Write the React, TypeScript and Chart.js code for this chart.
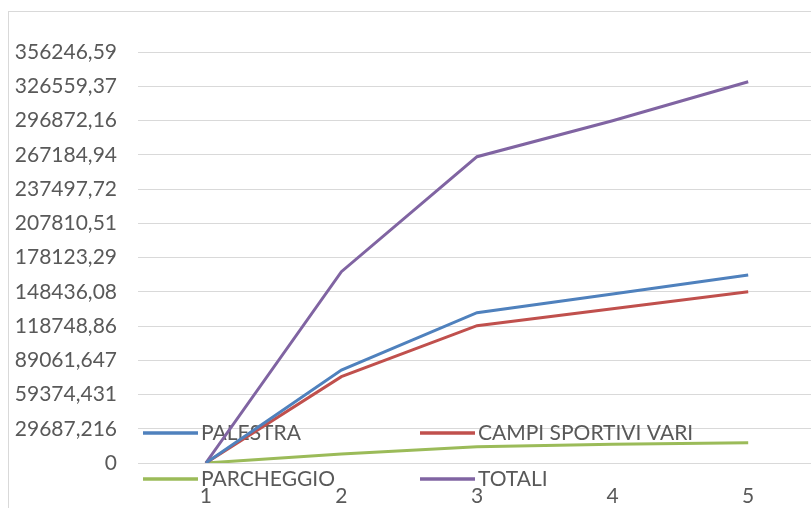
import React, { useEffect, useRef } from 'react';
import { Chart, registerables } from 'chart.js';

Chart.register(...registerables);

const categories = ['1', '2', '3', '4', '5'];
const palestra = [0, 80600, 130300, 146500, 163000];
const campiSportivi = [0, 74800, 119000, 133700, 148500];
const parcheggio = [0, 7800, 14000, 16200, 17600];
const totali = [0, 165800, 265500, 296700, 330500];

const seriesNames = ['PALESTRA', 'CAMPI SPORTIVI VARI', 'PARCHEGGIO', 'TOTALI'];
const seriesColors = ['#4F81BD', '#C0504D', '#9BBB59', '#8064A2'];

const tickValues = [
  0, 29687.216, 59374.431, 89061.647, 118748.86, 148436.08, 178123.29,
  207810.51, 237497.72, 267184.94, 296872.16, 326559.37, 356246.59,
];
const tickLabels = [
  '0', '29687,216', '59374,431', '89061,647', '118748,86', '148436,08', '178123,29',
  '207810,51', '237497,72', '267184,94', '296872,16', '326559,37', '356246,59',
];

const FONT = 'Lato, "Open Sans", sans-serif';
const TEXT_COLOR = '#595959';

// legend item anchors (layout)
const legendSlots = [
  { x: 143, y: 433 },
  { x: 420, y: 433 },
  { x: 143, y: 479 },
  { x: 420, y: 479 },
];

const overlayLegend = {
  id: 'overlayLegend',
  beforeDatasetsDraw(chart: any) {
    const ctx = chart.ctx as CanvasRenderingContext2D;
    ctx.save();
    chart.data.datasets.forEach((ds: any, i: number) => {
      const s = legendSlots[i];
      if (!s) return;
      ctx.strokeStyle = ds.borderColor;
      ctx.lineWidth = 3.5;
      ctx.lineCap = 'butt';
      ctx.beginPath();
      ctx.moveTo(s.x, s.y);
      ctx.lineTo(s.x + 55, s.y);
      ctx.stroke();
      ctx.fillStyle = TEXT_COLOR;
      ctx.font = `21px ${FONT}`;
      ctx.textBaseline = 'middle';
      ctx.textAlign = 'left';
      ctx.fillText(ds.label, s.x + 58, s.y);
    });
    ctx.restore();
  },
};

export default function App() {
  const ref = useRef<HTMLCanvasElement | null>(null);

  useEffect(() => {
    if (!ref.current) return;
    const values = [palestra, campiSportivi, parcheggio, totali];
    const chart = new Chart(ref.current, {
      type: 'line',
      data: {
        labels: categories,
        datasets: values.map((v, i) => ({
          label: seriesNames[i],
          data: v,
          borderColor: seriesColors[i],
          backgroundColor: seriesColors[i],
          borderWidth: 3,
          pointRadius: 0,
          tension: 0,
          fill: false,
        })),
      },
      options: {
        responsive: false,
        animation: false,
        devicePixelRatio: 1,
        layout: { padding: { left: 0, top: 52, right: 14, bottom: 0 } },
        plugins: {
          legend: { display: false },
          tooltip: { enabled: false },
          title: { display: false },
        },
        scales: {
          x: {
            type: 'category',
            offset: true,
            grid: { display: false, drawTicks: false },
            border: { display: false },
            ticks: {
              color: TEXT_COLOR,
              font: { family: FONT, size: 21 },
              padding: 21,
              maxRotation: 0,
            },
            afterFit(scale: any) {
              scale.height = 45;
            },
          },
          y: {
            type: 'linear',
            min: 0,
            max: tickValues[tickValues.length - 1],
            grid: { color: '#D9D9D9', lineWidth: 1, drawTicks: false },
            border: { display: false },
            ticks: {
              color: TEXT_COLOR,
              font: { family: FONT, size: 21 },
              padding: 21,
              callback: (_v: any, i: number) => tickLabels[i],
            },
            afterBuildTicks(scale: any) {
              scale.ticks = tickValues.map((v) => ({ value: v }));
            },
            afterFit(scale: any) {
              scale.width = 138;
            },
          },
        },
      },
      plugins: [overlayLegend],
    });
    return () => chart.destroy();
  }, []);

  return (
    <div
      style={{
        position: 'fixed',
        left: 0,
        top: 0,
        width: 811,
        height: 508,
        overflow: 'hidden',
        background: '#ffffff',
      }}
    >
      <div
        style={{
          position: 'absolute',
          left: 8,
          top: 11,
          width: 900,
          height: 600,
          border: '1px solid #D9D9D9',
          boxSizing: 'border-box',
        }}
      />
      <canvas
        ref={ref}
        width={830}
        height={508}
        style={{ position: 'absolute', left: 0, top: 0, width: 830, height: 508 }}
      />
    </div>
  );
}
